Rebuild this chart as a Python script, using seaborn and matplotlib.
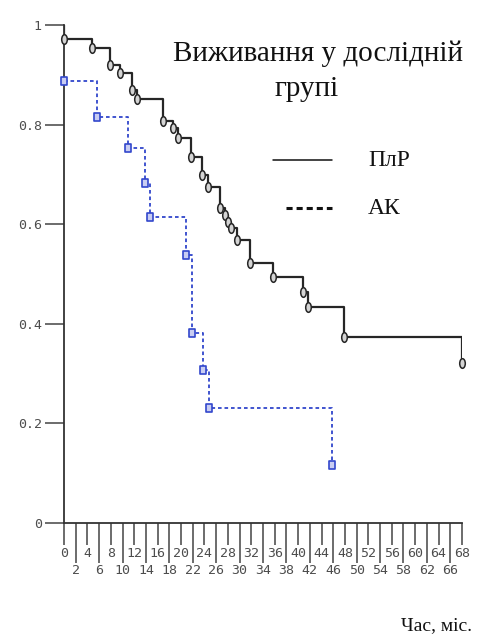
import matplotlib
matplotlib.use("Agg")
import pandas as pd
import seaborn as sns
import matplotlib.pyplot as plt
from matplotlib.lines import Line2D
from matplotlib.markers import MarkerStyle
from matplotlib.transforms import Affine2D

# survival curves (time in months, survival share)
plr_time = [0, 0, 4.8, 7.8, 9.6, 11.6, 12.5, 16.9, 18.6, 19.5, 21.7, 23.6, 24.6,
            26.7, 27.5, 28.0, 28.5, 29.6, 31.8, 35.7, 40.9, 41.7, 47.9, 68]
plr_surv = [1.0, 0.972, 0.954, 0.920, 0.903, 0.869, 0.851, 0.807, 0.793, 0.773, 0.735,
            0.699, 0.675, 0.633, 0.618, 0.604, 0.592, 0.568, 0.522, 0.494, 0.464,
            0.434, 0.373, 0.321]

ak_time = [0, 5.7, 11.0, 13.8, 14.7, 20.8, 21.9, 23.8, 24.8, 45.8]
ak_surv = [0.888, 0.815, 0.753, 0.683, 0.614, 0.538, 0.382, 0.307, 0.231, 0.116]

x_major = list(range(0, 69, 4))
x_minor = list(range(2, 67, 4))
y_ticks = [0, 0.2, 0.4, 0.6, 0.8, 1]
y_tick_labels = ["0", "0.2", "0.4", "0.6", "0.8", "1"]

title_line1 = "Виживання у дослідній"
title_line2 = "групі"
legend_labels = ["ПлР", "АК"]
x_label = "Час, міс."

sns.set_theme(style="white")
plt.rcParams["font.family"] = ["Liberation Serif", "DejaVu Serif"]

W, H = 480, 643
fig = plt.figure(figsize=(W / 100, H / 100), dpi=100)
fig.patch.set_facecolor("white")
# axes placed so that x 0..68 -> px 64..462 and y 0..1 -> px 523..25
ax = fig.add_axes([64 / W, 1 - 523 / H, (462 - 64) / W, (523 - 25) / H])
ax.set_facecolor("white")

plr = pd.DataFrame({"t": plr_time, "s": plr_surv})
ak = pd.DataFrame({"t": ak_time, "s": ak_surv})

ink = "#262626"
blue = "#3247cc"

sns.lineplot(data=plr, x="t", y="s", estimator=None, sort=False,
             drawstyle="steps-post", color=ink, lw=1.6, ax=ax)
sns.lineplot(data=ak, x="t", y="s", estimator=None, sort=False,
             drawstyle="steps-post", color=blue, lw=1.3,
             linestyle=(0, (2, 1.6)), ax=ax)

oval = MarkerStyle("o", transform=Affine2D().scale(0.58, 1.0))
box = MarkerStyle("s", transform=Affine2D().scale(0.62, 1.0))
sns.scatterplot(data=plr.iloc[1:], x="t", y="s", marker=oval, s=48,
                color="#d4d4d4", edgecolor=ink, linewidth=1.1,
                clip_on=False, zorder=4, ax=ax)
sns.scatterplot(data=ak, x="t", y="s", marker=box, s=40,
                color="#c9cdf2", edgecolor=blue, linewidth=1.2,
                clip_on=False, zorder=4, ax=ax)

ax.set_xlim(0, 68)
ax.set_ylim(0, 1)
ax.set_xlabel("")
ax.set_ylabel("")
for side in ["top", "right"]:
    ax.spines[side].set_visible(False)
for side in ["left", "bottom"]:
    ax.spines[side].set_color("#333333")
    ax.spines[side].set_linewidth(1.3)

mono = {"family": "DejaVu Sans Mono", "size": 9.5, "color": "#4d4d4d"}
ax.set_xticks(x_major)
ax.set_xticklabels([str(v) for v in x_major], fontdict=mono)
ax.set_xticks(x_minor, minor=True)
ax.set_xticklabels([str(v) for v in x_minor], minor=True, fontdict=mono)
ax.set_yticks(y_ticks)
ax.set_yticklabels(y_tick_labels, fontdict=mono)
ax.tick_params(axis="x", which="major", direction="out", length=16, width=1.1,
               color="#444444", pad=1, bottom=True)
ax.tick_params(axis="x", which="minor", direction="out", length=29, width=1.1,
               color="#444444", pad=0.5, bottom=True)
ax.tick_params(axis="y", direction="out", length=14, width=1.1,
               color="#444444", pad=2, left=True)

# title inside the plot area
fig.text(318 / W, 1 - 54 / H, title_line1, ha="center", va="center",
         fontsize=21, color="#111111")
fig.text(307 / W, 1 - 89 / H, title_line2, ha="center", va="center",
         fontsize=21, color="#111111")

# hand-made legend
fig.add_artist(Line2D([273 / W, 332 / W], [1 - 160 / H, 1 - 160 / H],
                      transform=fig.transFigure, color="#111111", lw=1.1))
fig.add_artist(Line2D([286 / W, 332 / W], [1 - 208 / H, 1 - 208 / H],
                      transform=fig.transFigure, color="#111111", lw=2.2,
                      dashes=(2.0, 1.3)))
fig.text(368 / W, 1 - 160 / H, legend_labels[0], ha="left", va="center",
         fontsize=17, color="#111111")
fig.text(368 / W, 1 - 208 / H, legend_labels[1], ha="left", va="center",
         fontsize=17, color="#111111")

fig.text(472 / W, 1 - 626 / H, x_label, ha="right", va="center",
         fontsize=14, color="#111111")

fig.savefig("out.png", dpi=100, facecolor="white")
